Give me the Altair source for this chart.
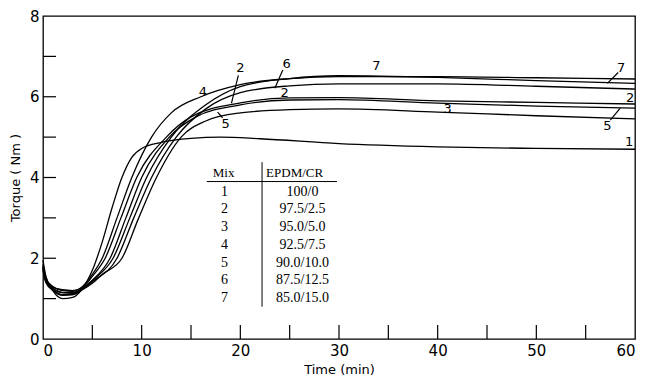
import altair as alt
import pandas as pd

# ---- cure curves (time in min, torque in Nm) ----
mix1_t = [0, 0.3, 1, 2, 3, 4, 5, 6, 7, 8, 9, 10, 12, 15, 18, 22, 30, 40, 50, 60]
mix1_T = [1.95, 1.55, 1.2, 1.0, 1.03, 1.25, 1.7, 2.4, 3.25, 4.0, 4.5, 4.72, 4.87, 4.97, 5.0, 4.96, 4.84, 4.76, 4.72, 4.7]

mix2_t = [0, 0.3, 1, 2, 3, 4, 5, 6.3, 7.9, 9.5, 12.5, 15, 20, 25, 30, 40, 50, 60]
mix2_T = [1.8, 1.45, 1.28, 1.22, 1.2, 1.27, 1.55, 2.0, 3.0, 4.0, 5.0, 5.5, 5.85, 5.97, 5.98, 5.9, 5.86, 5.82]

mix3_t = [0, 0.3, 1, 2, 3, 4, 5, 6.8, 8.4, 10, 12.8, 15.5, 20, 25, 30, 40, 50, 60]
mix3_T = [1.75, 1.42, 1.25, 1.15, 1.15, 1.25, 1.45, 2.0, 3.0, 4.0, 5.0, 5.5, 5.8, 5.92, 5.93, 5.84, 5.77, 5.72]

mix4_t = [0, 0.3, 1, 2, 3, 4, 5, 6, 7.5, 9, 11, 13, 16, 20, 25, 30, 40, 50, 60]
mix4_T = [1.85, 1.5, 1.3, 1.2, 1.18, 1.3, 1.6, 2.0, 3.0, 4.0, 5.0, 5.6, 6.0, 6.3, 6.45, 6.5, 6.5, 6.47, 6.44]

mix5_t = [0, 0.3, 1, 2, 3, 4, 5, 6, 8, 9.7, 11.5, 14, 16.5, 20, 25, 30, 40, 50, 60]
mix5_T = [1.7, 1.4, 1.22, 1.1, 1.1, 1.22, 1.38, 1.6, 2.0, 3.0, 4.0, 5.0, 5.4, 5.6, 5.68, 5.7, 5.62, 5.53, 5.45]

mix6_t = [0, 0.3, 1, 2, 3, 4, 5, 7.5, 9.2, 11, 13.5, 16.5, 20, 25, 30, 40, 50, 60]
mix6_T = [1.75, 1.4, 1.2, 1.08, 1.1, 1.24, 1.42, 2.0, 3.0, 4.0, 5.0, 5.7, 6.1, 6.27, 6.32, 6.32, 6.26, 6.19]

mix7_t = [0, 0.3, 1, 2, 3, 4, 5, 7.1, 8.8, 10.5, 13, 16.5, 20, 25, 30, 40, 50, 60]
mix7_T = [1.8, 1.45, 1.25, 1.15, 1.13, 1.25, 1.45, 2.0, 3.0, 4.0, 5.0, 5.8, 6.25, 6.45, 6.52, 6.48, 6.4, 6.33]

# ---- curve labels ----
label_text = ["1", "2", "7", "5", "3", "7", "6", "2", "2", "4", "5"]
label_t = [59.4, 59.5, 58.6, 57.2, 41.0, 33.8, 24.7, 24.5, 20.0, 16.2, 18.5]
label_T = [4.87, 5.96, 6.72, 5.27, 5.69, 6.75, 6.8, 6.1, 6.72, 6.13, 5.33]

leader_t1 = [58.3, 57.5, 24.3, 19.8, 18.2]
leader_T1 = [6.6, 5.42, 6.66, 6.53, 5.48]
leader_t2 = [57.2, 58.5, 23.5, 19.1, 17.7]
leader_T2 = [6.33, 5.72, 6.21, 5.84, 5.62]

# ---- table ----
mix_ids = ["1", "2", "3", "4", "5", "6", "7"]
ratios = ["100/0", "97.5/2.5", "95.0/5.0", "92.5/7.5", "90.0/10.0", "87.5/12.5", "85.0/15.0"]
table_head = ["Mix", "EPDM/CR"]

x_ticks = [0, 10, 20, 30, 40, 50, 60]
y_ticks = [0, 2, 4, 6, 8]
x_minor = [5, 10, 15, 20, 25, 30, 35, 40, 45, 50, 55]
y_minor = [1, 2, 3, 4, 5, 6, 7]

series = [(mix1_t, mix1_T), (mix2_t, mix2_T), (mix3_t, mix3_T), (mix4_t, mix4_T),
          (mix5_t, mix5_T), (mix6_t, mix6_T), (mix7_t, mix7_T)]
rows = []
for m, (ts, vs) in zip(mix_ids, series):
    for t, v in zip(ts, vs):
        rows.append({"mix": m, "t": t, "T": v})
df = pd.DataFrame(rows)

xs = alt.Scale(domain=[0, 60], nice=False, zero=False)
ys = alt.Scale(domain=[0, 8], nice=False, zero=False)

AXIS_FONT = "DejaVu Sans"
x_axis = alt.Axis(
    title="Time (min)", values=x_ticks, ticks=False, domain=False, grid=False,
    labelFontSize=15, labelFont=AXIS_FONT, labelColor="black", labelPadding=4,
    titleFont=AXIS_FONT, titleFontSize=13, titleFontWeight="normal", titleColor="black", titlePadding=5)
y_axis = alt.Axis(
    title="Torque ( Nm )", values=y_ticks, ticks=False, domain=False, grid=False,
    labelFontSize=15, labelFont=AXIS_FONT, labelColor="black", labelPadding=4,
    titleFont=AXIS_FONT, titleFontSize=13, titleFontWeight="normal", titleColor="black", titlePadding=7)

lines = alt.Chart(df).mark_line(color="black", strokeWidth=1.3, interpolate="monotone").encode(
    x=alt.X("t:Q", scale=xs, axis=x_axis),
    y=alt.Y("T:Q", scale=ys, axis=y_axis),
    detail="mix:N",
)

xt = alt.Chart(pd.DataFrame({"t": x_minor})).mark_rule(color="black", strokeWidth=1.2).encode(
    x=alt.X("t:Q", scale=xs, axis=x_axis), y=alt.value(323), y2=alt.value(309))
yt = alt.Chart(pd.DataFrame({"T": y_minor})).mark_rule(color="black", strokeWidth=1.2).encode(
    y=alt.Y("T:Q", scale=ys, axis=y_axis), x=alt.value(0), x2=alt.value(13))

labels = alt.Chart(pd.DataFrame({"s": label_text, "t": label_t, "T": label_T})).mark_text(
    font=AXIS_FONT, fontSize=13, color="black").encode(
    x=alt.X("t:Q", scale=xs, axis=x_axis), y=alt.Y("T:Q", scale=ys, axis=y_axis), text="s:N")

leaders = alt.Chart(pd.DataFrame({"t": leader_t1, "T": leader_T1, "t2": leader_t2, "T2": leader_T2})).mark_rule(
    color="black", strokeWidth=1.2).encode(
    x=alt.X("t:Q", scale=xs, axis=x_axis), y=alt.Y("T:Q", scale=ys, axis=y_axis), x2="t2:Q", y2="T2:Q")

# table layout (data coordinates)
row_T = [3.65 - i * 0.44 for i in range(len(mix_ids))]
tab_df = pd.DataFrame({"mix": mix_ids, "ratio": ratios, "T": row_T})
SERIF = "Liberation Serif"
tab_mix = alt.Chart(tab_df).mark_text(font=SERIF, fontSize=14, color="black").encode(
    x=alt.value(18.4 / 60 * 592), y=alt.Y("T:Q", scale=ys, axis=y_axis), text="mix:N")
tab_ratio = alt.Chart(tab_df).mark_text(font=SERIF, fontSize=14, color="black").encode(
    x=alt.value(26.3 / 60 * 592), y=alt.Y("T:Q", scale=ys, axis=y_axis), text="ratio:N")
head_df = pd.DataFrame({"s": table_head, "t": [18.3, 25.5], "T": [4.1, 4.1]})
tab_head = alt.Chart(head_df).mark_text(font=SERIF, fontSize=13, color="black").encode(
    x=alt.X("t:Q", scale=xs, axis=x_axis), y=alt.Y("T:Q", scale=ys, axis=y_axis), text="s:N")
rule_df = pd.DataFrame({"t": [16.6, 22.2], "T": [3.9, 4.38], "t2": [29.8, 22.2], "T2": [3.9, 0.8]})
tab_rules = alt.Chart(rule_df).mark_rule(color="black", strokeWidth=1).encode(
    x=alt.X("t:Q", scale=xs, axis=x_axis), y=alt.Y("T:Q", scale=ys, axis=y_axis), x2="t2:Q", y2="T2:Q")

chart = alt.layer(lines, xt, yt, leaders, labels, tab_rules, tab_head, tab_mix, tab_ratio).properties(
    width=592, height=323,
    autosize=alt.AutoSizeParams(type="none"),
    padding={"left": 35, "top": 8, "right": 5, "bottom": 42},
    background="white",
).configure_view(stroke="black", strokeWidth=1.3)

chart.save("out.html", embed_options={"renderer": "svg", "actions": False})
